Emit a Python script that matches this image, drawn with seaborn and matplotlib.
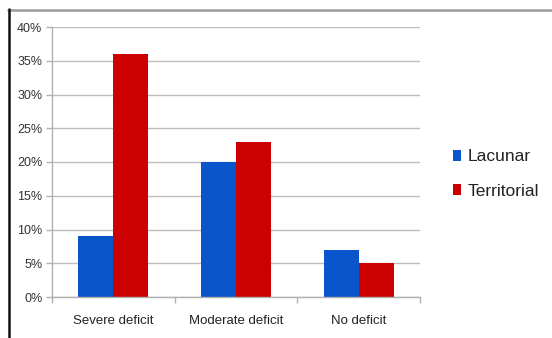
import matplotlib
matplotlib.use("Agg")
import matplotlib.pyplot as plt
from matplotlib.lines import Line2D
from matplotlib.patches import Patch
from matplotlib.ticker import FixedLocator, MultipleLocator, PercentFormatter
import seaborn as sns
import pandas as pd

categories = ["Severe deficit", "Moderate deficit", "No deficit"]
series = ["Lacunar", "Territorial"]
lacunar = [9, 20, 7]
territorial = [36, 23, 5]
colors = {"Lacunar": "#0a55cc", "Territorial": "#cc0000"}

df = pd.DataFrame({
    "category": categories * 2,
    "group": [series[0]] * 3 + [series[1]] * 3,
    "value": lacunar + territorial,
})

sns.set_style("white")
plt.rcParams["font.family"] = ["Liberation Sans", "DejaVu Sans"]

W, H = 552, 338
fig = plt.figure(figsize=(W / 100, H / 100), dpi=100)
ax = fig.add_axes([52 / W, 1 - 297 / H, (420 - 52) / W, (297 - 27) / H])

sns.barplot(data=df, x="category", y="value", hue="group", order=categories,
            hue_order=series, palette=colors, width=0.57, saturation=1,
            edgecolor="none", legend=False, ax=ax)

ax.set_xlim(-0.5, 2.5)
ax.set_ylim(0, 40)
ax.yaxis.set_major_locator(MultipleLocator(5))
ax.yaxis.set_major_formatter(PercentFormatter(decimals=0))
ax.grid(axis="y", color="#bdbdbd", linewidth=1)
ax.set_axisbelow(True)
ax.set_xlabel("")
ax.set_ylabel("")

for side in ["top", "right"]:
    ax.spines[side].set_visible(False)
for side in ["left", "bottom"]:
    ax.spines[side].set_color("#b0b0b0")
    ax.spines[side].set_linewidth(1)

ax.tick_params(axis="y", which="major", length=4, width=1, color="#b0b0b0",
               labelsize=9, labelcolor="#333333", pad=3, left=True)
ax.tick_params(axis="x", which="major", length=0, labelsize=9.5,
               labelcolor="#222222", pad=13)
ax.xaxis.set_minor_locator(FixedLocator([-0.5, 0.5, 1.5, 2.5]))
ax.tick_params(axis="x", which="minor", length=4, width=1, color="#b0b0b0", bottom=True)

handles = [Patch(facecolor=colors[s], edgecolor="none", label=s) for s in series]
fig.legend(handles=handles, loc="center left", bbox_to_anchor=(437 / W, 1 - 174 / H),
           frameon=False, fontsize=12.5, handlelength=0.5, handleheight=0.55,
           handletextpad=0.35, labelspacing=1.1, labelcolor="#222222")

# frame lines along the top and left edges
fig.add_artist(Line2D([8 / W, 1], [1 - 9.5 / H] * 2, transform=fig.transFigure,
                      color="#9a9a9a", linewidth=1.8))
fig.add_artist(Line2D([8.5 / W] * 2, [0, 1 - 9 / H], transform=fig.transFigure,
                      color="#111111", linewidth=1.8))

fig.savefig("out.png", dpi=100, facecolor="white")
